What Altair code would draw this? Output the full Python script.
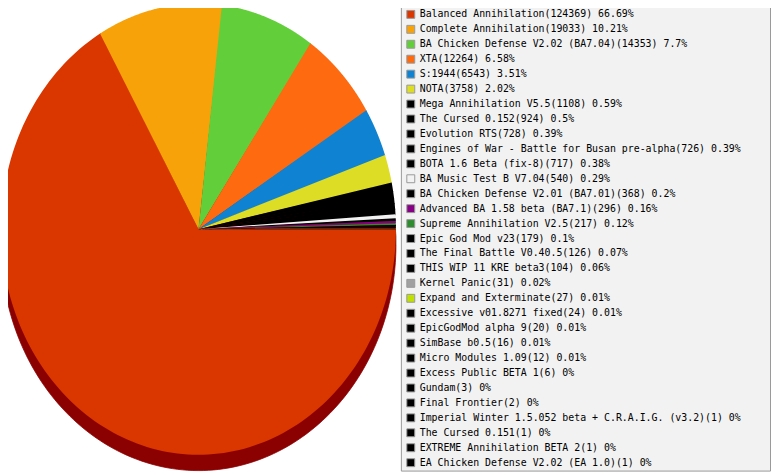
import altair as alt
import pandas as pd

names = [
    "Balanced Annihilation", "Complete Annihilation", "BA Chicken Defense V2.02 (BA7.04)",
    "XTA", "S:1944", "NOTA", "Mega Annihilation V5.5", "The Cursed 0.152", "Evolution RTS",
    "Engines of War - Battle for Busan pre-alpha", "BOTA 1.6 Beta (fix-8)", "BA Music Test B V7.04",
    "BA Chicken Defense V2.01 (BA7.01)", "Advanced BA 1.58 beta (BA7.1)", "Supreme Annihilation V2.5",
    "Epic God Mod v23", "The Final Battle V0.40.5", "THIS WIP 11 KRE beta3", "Kernel Panic",
    "Expand and Exterminate", "Excessive v01.8271 fixed", "EpicGodMod alpha 9", "SimBase b0.5",
    "Micro Modules 1.09", "Excess Public BETA 1", "Gundam", "Final Frontier",
    "Imperial Winter 1.5.052 beta + C.R.A.I.G. (v3.2)", "The Cursed 0.151",
    "EXTREME Annihilation BETA 2", "EA Chicken Defense V2.02 (EA 1.0)",
]
counts = [124369, 19033, 14353, 12264, 6543, 3758, 1108, 924, 728, 726, 717, 540, 368, 296, 217,
          179, 126, 104, 31, 27, 24, 20, 16, 12, 6, 3, 2, 1, 1, 1, 1]
pcts = ["66.69", "10.21", "7.7", "6.58", "3.51", "2.02", "0.59", "0.5", "0.39", "0.39", "0.38",
        "0.29", "0.2", "0.16", "0.12", "0.1", "0.07", "0.06", "0.02", "0.01", "0.01", "0.01",
        "0.01", "0.01", "0", "0", "0", "0", "0", "0", "0"]
colors = ["#DA3700", "#F8A20A", "#62CF3A", "#FE6A10", "#1082D2", "#DEDD25", "#000000", "#000000",
          "#000000", "#000000", "#000000", "#F2F2F2", "#000000", "#850085", "#2E8B2E", "#000000",
          "#000000", "#000000", "#A0A0A0", "#C0E000", "#000000", "#000000", "#000000", "#000000",
          "#000000", "#000000", "#000000", "#000000", "#000000", "#000000", "#000000"]

labels = [f"{n}({c}) {p}%" for n, c, p in zip(names, counts, pcts)]
df = pd.DataFrame({"idx": list(range(len(names))), "label": labels, "n": counts})

N = 160
OVERLAP = 0.005  # small angular overlap so neighbouring slices leave no seam
base = (
    alt.Chart(df)
    .transform_joinaggregate(total="sum(n)")
    .transform_window(cum="sum(n)", sort=[alt.SortField("idx")], frame=[None, 0])
    .transform_calculate(
        a0="(datum.cum - datum.n) / datum.total * 2 * PI",
        a1=f"datum.cum / datum.total * 2 * PI + (datum.n > 0.002 * datum.total ? {OVERLAP} : 0)",
        seq=f"sequence(0, {N + 2})",
    )
    .transform_flatten(["seq"])
    .transform_calculate(
        t=f"datum.a0 + (datum.a1 - datum.a0) * (datum.seq - 1) / {N}",
    )
    .transform_calculate(
        px="datum.seq == 0 ? 0 : cos(datum.t)",
        py="datum.seq == 0 ? 0 : -sin(datum.t)",
    )
)

xenc = alt.X("px:Q", scale=alt.Scale(domain=[-1, 1], range=[-7, 392], nice=False, zero=False), axis=None)
yenc = alt.Y("py:Q", scale=alt.Scale(domain=[-1, 1], range=[449, -7], nice=False, zero=False), axis=None)

shadow = base.mark_line(
    filled=True, color="#8B0000", stroke="#8B0000", strokeWidth=0.8, yOffset=16, opacity=1
).encode(x=xenc, y=yenc, detail="label:N", order="seq:Q")

slices = base.mark_line(filled=True, opacity=1).encode(
    x=xenc,
    y=yenc,
    order="seq:Q",
    color=alt.Color(
        "label:N",
        title=None,
        scale=alt.Scale(domain=labels, range=colors),
        legend=alt.Legend(
            orient="none",
            legendX=397,
            legendY=-6,
            padding=5,
            symbolType="square",
            symbolSize=64,
            symbolStrokeColor="#999999",
            symbolStrokeWidth=1,
            symbolOpacity=1,
            labelFont="DejaVu Sans Mono",
            labelFontSize=10,
            labelColor="#000000",
            labelLimit=500,
            labelOffset=4,
            rowPadding=3.1,
            symbolLimit=100,
        ),
    ),
)

bg = alt.Chart(pd.DataFrame({"k": [0]})).mark_rect(
    fill="#F2F2F2", stroke="#999999", strokeWidth=1
).encode(
    x=alt.value(397.5), x2=alt.value(770.5), y=alt.value(-7.5), y2=alt.value(465.5)
)

chart = (
    alt.layer(shadow, slices, bg)
    .properties(width=771, height=467, padding=0, autosize="none", background="#FFFFFF")
    .configure_view(stroke=None)
)

chart.save("out.html", embed_options={"renderer": "svg", "actions": False})
